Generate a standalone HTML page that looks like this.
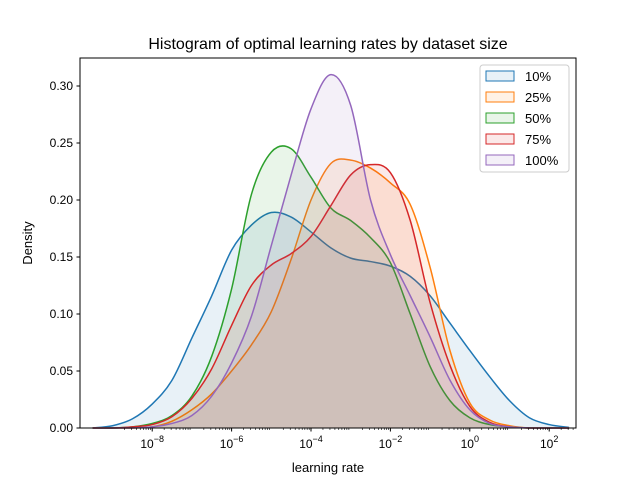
<!DOCTYPE html>
<html><head><meta charset="utf-8"><style>
body{margin:0;background:#fff}
svg{font-family:"Liberation Sans","DejaVu Sans",sans-serif}
</style></head><body>
<svg id="chart" width="640" height="480" viewBox="0 0 640 480" xmlns="http://www.w3.org/2000/svg">
<rect width="640" height="480" fill="#fff"/>
<text x="328" y="49" text-anchor="middle" font-size="16">Histogram of optimal learning rates by dataset size</text>
<g id="series"></g>
<g id="axes"></g>
<text x="328" y="472" text-anchor="middle" font-size="13">learning rate</text>
<text x="32" y="243" text-anchor="middle" font-size="13" transform="rotate(-90 32 243)">Density</text>
<g id="legend"></g>
</svg>
<script>
const logX = [-9.5,-9,-8.5,-8,-7.5,-7,-6.5,-6,-5.5,-5,-4.5,-4,-3.5,-3,-2.5,-2,-1.5,-1,-0.5,0,0.5,1,1.5,2,2.5];
const seriesNames = ["10%","25%","50%","75%","100%"];
const d10 = [0,0.002,0.008,0.021,0.042,0.079,0.116,0.156,0.178,0.189,0.185,0.172,0.158,0.149,0.146,0.142,0.133,0.116,0.092,0.068,0.045,0.024,0.009,0.003,0.0005];
const d25 = [0,0,0,0.001,0.006,0.016,0.030,0.050,0.073,0.102,0.148,0.200,0.232,0.235,0.228,0.215,0.196,0.141,0.068,0.022,0.007,0.002,0,0,0];
const d50 = [0,0,0.001,0.004,0.011,0.028,0.063,0.122,0.205,0.242,0.245,0.220,0.193,0.182,0.167,0.145,0.100,0.054,0.024,0.009,0.003,0.001,0,0,0];
const d75 = [0,0,0.001,0.003,0.010,0.026,0.052,0.090,0.125,0.143,0.153,0.168,0.195,0.222,0.231,0.224,0.182,0.110,0.055,0.019,0.005,0.001,0,0,0];
const d100 = [0,0,0,0.001,0.004,0.011,0.028,0.057,0.098,0.160,0.222,0.280,0.310,0.283,0.200,0.152,0.116,0.080,0.042,0.016,0.004,0.001,0,0,0];
const yTicks = [0,0.05,0.10,0.15,0.20,0.25,0.30];
const xTickExp = [-8,-6,-4,-2,0,2];
const colors = ["#1f77b4","#ff7f0e","#2ca02c","#d62728","#9467bd"];
const allSeries = [d10,d25,d50,d75,d100];

const L=80,R=576,T=58,B=428;
const xs = lx => 311 + 39.7*(lx+4);
const ys = v => B - v/0.05*57;
const NS="http://www.w3.org/2000/svg";
function mk(tag,attrs,parent){const e=document.createElementNS(NS,tag);for(const k in attrs)e.setAttribute(k,attrs[k]);parent.appendChild(e);return e;}
function smooth(pts){
  let d="M"+pts[0][0]+","+pts[0][1];
  for(let i=0;i<pts.length-1;i++){
    const p0=pts[Math.max(0,i-1)],p1=pts[i],p2=pts[i+1],p3=pts[Math.min(pts.length-1,i+2)];
    const c1x=p1[0]+(p2[0]-p0[0])/6,c1y=p1[1]+(p2[1]-p0[1])/6;
    const c2x=p2[0]-(p3[0]-p1[0])/6,c2y=p2[1]-(p3[1]-p1[1])/6;
    d+=" C"+c1x+","+Math.min(B,c1y)+" "+c2x+","+Math.min(B,c2y)+" "+p2[0]+","+p2[1];
  }
  return d;
}
const sg=document.getElementById("series");
allSeries.forEach((s,i)=>{
  const pts=logX.map((lx,j)=>[xs(lx),ys(s[j])]);
  const line=smooth(pts);
  const f=mk("path",{d:line+" L"+pts[pts.length-1][0]+","+B+" L"+pts[0][0]+","+B+" Z",fill:colors[i],"fill-opacity":0.1,stroke:"none"},sg);
  
  
  const l=mk("path",{d:line,fill:"none",stroke:colors[i],"stroke-width":1.5},sg);
  
  
});
const ax=document.getElementById("axes");
const fr=mk("rect",{x:L,y:T,width:R-L,height:B-T,fill:"none",stroke:"#000","stroke-width":1},ax);


yTicks.forEach(v=>{
  const y=ys(v);
  mk("line",{x1:L-3.5,x2:L,y1:y,y2:y,stroke:"#000"},ax);
  const t=mk("text",{x:L-7,y:y+4,"text-anchor":"end","font-size":"12"},ax);
  t.textContent=v.toFixed(2);
  
  
});
for(let e=-9;e<=2;e++){for(let m=2;m<10;m++){const x=xs(e+Math.log10(m));if(x>L&&x<R)mk("line",{x1:x,x2:x,y1:B,y2:B+2,stroke:"#000","stroke-width":0.6},ax);}}
xTickExp.forEach(e=>{
  const x=xs(e);
  mk("line",{x1:x,x2:x,y1:B,y2:B+3.5,stroke:"#000"},ax);
  const t=mk("text",{x:x,y:B+20,"text-anchor":"middle","font-size":"12"},ax);
  
  
  t.appendChild(document.createTextNode("10"));
  const s=mk("tspan",{dy:-6,"font-size":"9"},t);s.textContent=String(e).replace('-','\u2212');
});
const lg=document.getElementById("legend");
mk("rect",{x:480,y:65,width:89,height:107,rx:3,fill:"#fff","fill-opacity":0.8,stroke:"#ccc"},lg);
seriesNames.forEach((n,i)=>{
  const y=76+i*21;
  const g=mk("g",{},lg);
  
  
  mk("rect",{x:486,y:y-5,width:28,height:10,fill:colors[i],"fill-opacity":0.1,stroke:colors[i]},g);
  const t=mk("text",{x:525,y:y+5,"font-size":"13"},g);t.textContent=n;
});
</script>
</body></html>
